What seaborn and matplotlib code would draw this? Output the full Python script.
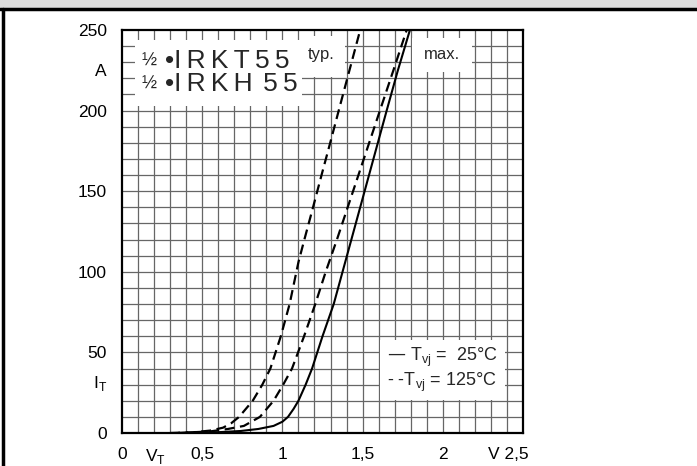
# Durchlasskennlinie I_T = f(V_T), IRKT55 / IRKH55

import numpy as np
import pandas as pd
import seaborn as sns
import matplotlib.pyplot as plt
from matplotlib.patches import Rectangle
from matplotlib.lines import Line2D

i_125_typ = [0, 0.5, 1.5, 3.3, 6, 10, 20, 30, 40, 60, 80, 106, 120, 140, 160, 180, 200, 225, 250]
v_125_typ = [0.30, 0.45, 0.55, 0.63, 0.68, 0.73, 0.815, 0.875, 0.925, 0.99, 1.045, 1.10, 1.137, 1.191, 1.244, 1.298, 1.351, 1.418, 1.485]

i_125_max = [0, 1, 2.5, 4.4, 10, 20, 30, 40, 60, 80, 100, 120, 140, 160, 180, 200, 225, 250]
v_125_max = [0.35, 0.55, 0.66, 0.76, 0.86, 0.945, 1.005, 1.06, 1.135, 1.205, 1.27, 1.34, 1.407, 1.474, 1.541, 1.608, 1.692, 1.775]

i_25_max = [0, 0.5, 1.25, 2.5, 4.4, 7, 10, 15, 20, 30, 40, 60, 80, 100, 120, 140, 160, 180, 200, 225, 250]
v_25_max = [0.35, 0.6, 0.74, 0.85, 0.945, 1.0, 1.035, 1.07, 1.10, 1.145, 1.185, 1.25, 1.32, 1.375, 1.43, 1.485, 1.54, 1.595, 1.65, 1.72, 1.795]

x_ticks = [0, 0.21, 0.5, 1, 1.5, 2, 2.41]
x_labels = ['0', 'V$_\\mathregular{T}$', '0,5', '1', '1,5', '2', 'V 2,5']
y_ticks = [0, 32, 50, 100, 150, 200, 225, 250]
y_labels = ['0', 'I$_\\mathregular{T}$', '50', '100', '150', '200', 'A', '250']

sns.set_style('white')
plt.rcParams['font.family'] = ['Liberation Sans', 'DejaVu Sans']

fig = plt.figure(figsize=(6.97, 4.66), dpi=100)
ax = fig.add_axes([122 / 697, 1 - 433 / 466, 401 / 697, 403 / 466])

# Rahmen der Seite
fig.add_artist(Rectangle((0, 1 - 8 / 466), 1, 8 / 466, transform=fig.transFigure,
                         facecolor='#dedede', edgecolor='none'))
fig.add_artist(Line2D([0, 1], [1 - 9 / 466, 1 - 9 / 466], transform=fig.transFigure,
                      color='black', lw=2.5))
fig.add_artist(Line2D([3.5 / 697, 3.5 / 697], [0, 1 - 9 / 466], transform=fig.transFigure,
                      color='black', lw=2.5))

# Raster
ax.vlines(np.arange(0.1, 2.5, 0.1), 0, 250, color='#666666', lw=0.9, zorder=1)
ax.hlines(np.arange(10, 250, 10), 0, 2.5, color='#666666', lw=0.9, zorder=1)

# weisse Felder hinter den Beschriftungen
for (x0, y0, w, h) in [(0.08, 203, 1.04, 41), (1.12, 221, 0.27, 25),
                       (1.81, 224, 0.37, 21), (1.61, 20.5, 0.78, 37)]:
    ax.add_patch(Rectangle((x0, y0), w, h, facecolor='white', edgecolor='none', zorder=2))

df_a = pd.DataFrame({'V': v_125_typ, 'I': i_125_typ})
df_b = pd.DataFrame({'V': v_125_max, 'I': i_125_max})
df_c = pd.DataFrame({'V': v_25_max, 'I': i_25_max})

sns.lineplot(data=df_a, x='V', y='I', ax=ax, sort=False, estimator=None,
             color='black', lw=1.6, dashes=(4.5, 2.5), zorder=5)
sns.lineplot(data=df_b, x='V', y='I', ax=ax, sort=False, estimator=None,
             color='black', lw=1.6, dashes=(4.5, 2.5), zorder=5)
sns.lineplot(data=df_c, x='V', y='I', ax=ax, sort=False, estimator=None,
             color='black', lw=1.5, zorder=5)

ax.set_xlim(0, 2.5)
ax.set_ylim(0, 250)
ax.set_xticks(x_ticks, x_labels)
ax.set_yticks(y_ticks, y_labels)
ax.tick_params(length=0, labelsize=12.5, colors='black')
ax.tick_params(axis='x', pad=10)
ax.tick_params(axis='y', pad=11)
ax.set_xlabel('')
ax.set_ylabel('')
for s in ax.spines.values():
    s.set_color('black')
    s.set_linewidth(1.6)
    s.set_zorder(6)

# Beschriftungen im Diagramm
ax.text(0.12, 230.5, '½', fontsize=13, va='center', zorder=3)
ax.text(0.12, 216.5, '½', fontsize=13, va='center', zorder=3)
ax.text(0.27, 230.5, '•I\u2009R\u2009K\u2009T\u20095\u20095', fontsize=19, va='center', zorder=3)
ax.text(0.27, 216.5, '•I\u2009R\u2009K\u2009H\u2009\u20095\u20095', fontsize=19, va='center', zorder=3)
ax.text(1.16, 235, 'typ.', fontsize=12, va='center', zorder=3)
ax.text(1.88, 235, 'max.', fontsize=12, va='center', zorder=3)

ax.text(1.65, 47, '— T$_\\mathregular{vj}$ =  25°C', fontsize=13, va='center', zorder=3)
ax.text(1.655, 31.5, '- -T$_\\mathregular{vj}$ = 125°C', fontsize=13, va='center', zorder=3)

fig.savefig('out.png', dpi=100)
